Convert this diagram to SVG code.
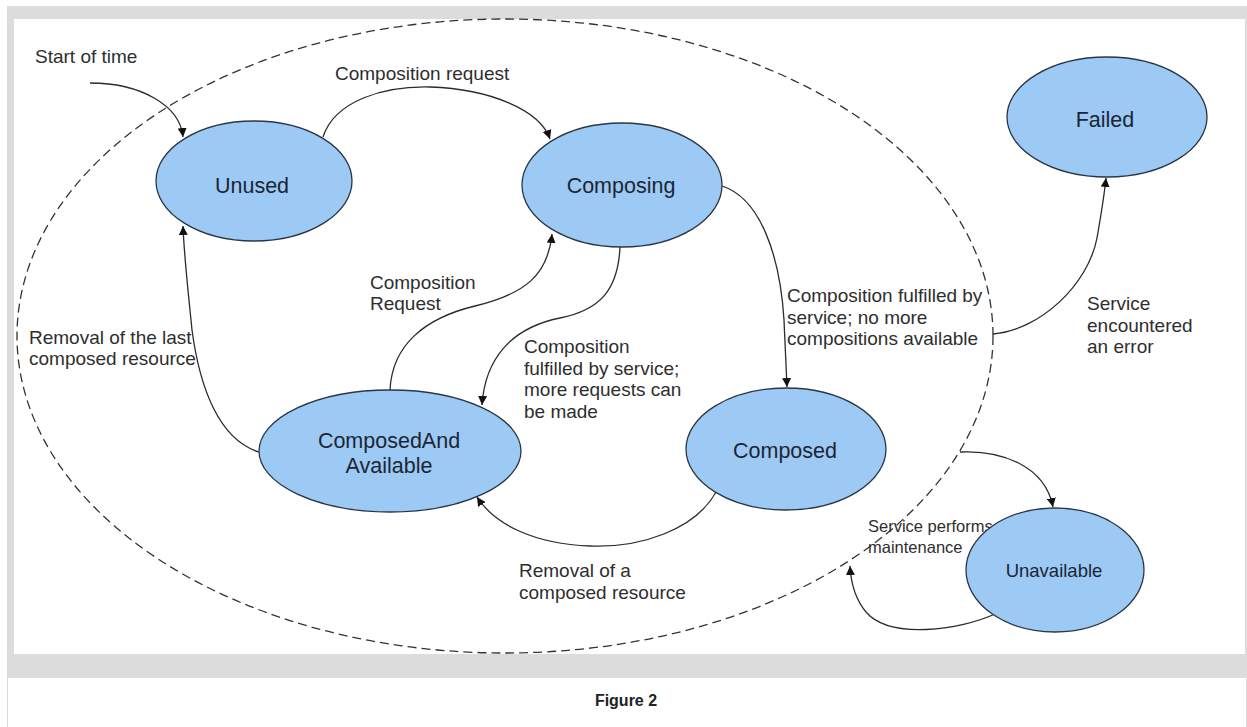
<svg xmlns="http://www.w3.org/2000/svg" width="1247" height="727" viewBox="0 0 1247 727">
<style>
.node{fill:#9dc9f5;stroke:#2a3644;stroke-width:1.3}
.nl{font-family:"Liberation Sans",Arial,sans-serif;font-size:21.5px;fill:#1c2633;text-anchor:middle}
.el{font-family:"Liberation Sans",Arial,sans-serif;font-size:19px;fill:#2e2e2e}
.sm{font-size:16.5px}
.edge{fill:none;stroke:#2b2b2b;stroke-width:1.3}
.bound{fill:none;stroke:#333;stroke-width:1.3;stroke-dasharray:9 5}
.cap{font-family:"Liberation Sans",Arial,sans-serif;font-size:16px;font-weight:bold;fill:#222;text-anchor:middle}
</style>
<defs>
<marker id="ah" viewBox="0 0 10 10" refX="10" refY="5" markerWidth="9" markerHeight="9" markerUnits="userSpaceOnUse" orient="auto">
<path d="M0,0 L10,5 L0,10 z" fill="#111"/>
</marker>
</defs>
<rect width="1247" height="727" fill="#fff"/>
<rect x="7" y="6" width="1240" height="671" fill="#dcdcdc"/>
<rect x="14" y="19" width="1231" height="635" fill="#fff"/>
<rect x="7.5" y="677.5" width="1239" height="60" fill="#fff" stroke="#dcdcdc" stroke-width="1"/>
<text class="cap" x="626" y="706">Figure 2</text>

<ellipse id="boundary" class="bound" cx="505" cy="336" rx="488" ry="317"/>

<g id="connectors">
<path class="edge" d="M 90 83 C 140 83 180 105 183 137" marker-end="url(#ah)"/>
<path class="edge" d="M 323 137 C 335 100 385 86 430 87 C 490 89 540 110 550 139" marker-end="url(#ah)"/>
<path class="edge" d="M 722 186 C 760 198 780 255 784 320 L 787 387" marker-end="url(#ah)"/>
<path class="edge" d="M 620 247 C 618 290 600 310 560 318 C 510 328 485 360 482 405" marker-end="url(#ah)"/>
<path class="edge" d="M 390 390 C 392 345 425 318 475 306 C 525 294 548 275 552 234" marker-end="url(#ah)"/>
<path class="edge" d="M 259 452 C 220 440 200 390 192 330 C 188 290 184 255 183 226" marker-end="url(#ah)"/>
<path class="edge" d="M 716 492 C 695 530 640 548 590 546 C 535 544 495 525 477 497" marker-end="url(#ah)"/>
<path class="edge" d="M 993 334 C 1040 330 1088 285 1097 238 C 1101 215 1104 198 1106 178" marker-end="url(#ah)"/>
<path class="edge" d="M 960 452 C 1000 450 1045 465 1053 507" marker-end="url(#ah)"/>
<path class="edge" d="M 995 614 C 960 630 890 640 866 612 C 856 600 851 585 850 566" marker-end="url(#ah)"/>
</g>

<g id="labels">
<text class="el" x="35" y="63">Start of time</text>
<text class="el" x="335" y="80">Composition request</text>
<text class="el" x="370" y="289">Composition</text>
<text class="el" x="370" y="310">Request</text>
<text class="el" x="29" y="344">Removal of the last</text>
<text class="el" x="29" y="365">composed resource</text>
<text class="el" x="524" y="353">Composition</text>
<text class="el" x="524" y="374.5">fulfilled by service;</text>
<text class="el" x="524" y="396">more requests can</text>
<text class="el" x="524" y="417.5">be made</text>
<text class="el" x="787" y="302">Composition fulfilled by</text>
<text class="el" x="787" y="323.5">service; no more</text>
<text class="el" x="787" y="345">compositions available</text>
<text class="el" x="1087" y="310">Service</text>
<text class="el" x="1087" y="331.5">encountered</text>
<text class="el" x="1087" y="353">an error</text>
<text class="el" x="519" y="577">Removal of a</text>
<text class="el" x="519" y="598.5">composed resource</text>
<text class="el sm" x="868" y="532">Service performs</text>
<text class="el sm" x="868" y="553">maintenance</text>
</g>

<g id="unused"><ellipse class="node" cx="254" cy="181" rx="98" ry="60"/><text class="nl" x="252" y="193">Unused</text></g>
<g id="composing"><ellipse class="node" cx="622" cy="185" rx="100" ry="62"/><text class="nl" x="621" y="193">Composing</text></g>
<g id="failed"><ellipse class="node" cx="1107" cy="117" rx="100" ry="60"/><text class="nl" x="1105" y="127">Failed</text></g>
<g id="composedandavailable"><ellipse class="node" cx="390" cy="451" rx="131" ry="61"/><text class="nl" x="389" y="448">ComposedAnd</text><text class="nl" x="389" y="473">Available</text></g>
<g id="composed"><ellipse class="node" cx="786" cy="449" rx="100" ry="61"/><text class="nl" x="785" y="458">Composed</text></g>
<g id="unavailable"><ellipse class="node" cx="1055" cy="570" rx="89" ry="62"/><text class="nl" x="1054" y="577" style="font-size:18.5px">Unavailable</text></g>
</svg>
